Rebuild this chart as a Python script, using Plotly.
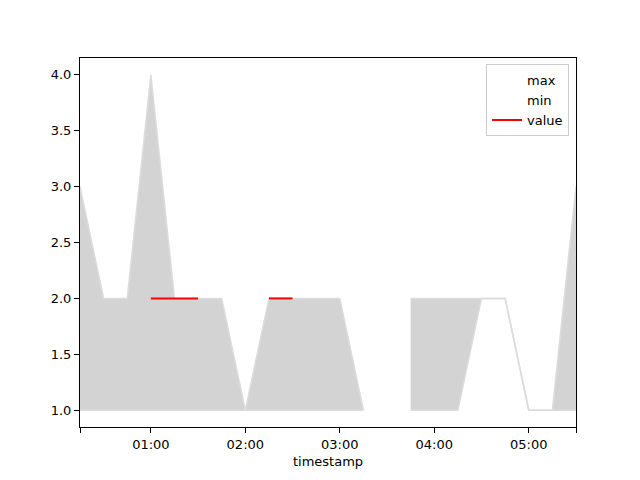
import plotly.graph_objects as go
import pandas as pd

timestamps = pd.date_range("2023-01-01 00:15", "2023-01-01 05:30", freq="15min")
max_vals = [3, 2, 2, 4, 2, 2, 2, 1, 2, 2, 2, 2, 1, None, 2, 2, 2, 2, 2, 1, 1, 3]
min_vals = [1, 1, 1, 1, 1, 1, 1, 1, 1, 1, 1, 1, 1, None, 1, 1, 1, 2, 2, 1, 1, 1]
value_vals = [None, None, None, 2, 2, 2, None, None, 2, 2, None, None, None, None,
              None, None, None, None, None, None, None, None]
hour_ticks = pd.date_range("2023-01-01 01:00", "2023-01-01 05:00", freq="1h")

FILL = "#d3d3d3"
EDGE = "#dcdcdc"

fig = go.Figure()

# split into contiguous segments (gaps where data is missing)
segments, cur = [], []
for i, (a, b) in enumerate(zip(max_vals, min_vals)):
    if a is None or b is None:
        if cur:
            segments.append(cur)
        cur = []
    else:
        cur.append(i)
if cur:
    segments.append(cur)

for seg in segments:
    xs = [timestamps[i] for i in seg]
    fig.add_trace(go.Scatter(x=xs, y=[min_vals[i] for i in seg], mode="lines",
                             line=dict(color=EDGE, width=1.5), showlegend=False,
                             hoverinfo="skip"))
    fig.add_trace(go.Scatter(x=xs, y=[max_vals[i] for i in seg], mode="lines",
                             line=dict(color=EDGE, width=1.5), fill="tonexty",
                             fillcolor=FILL, showlegend=False, hoverinfo="skip"))

fig.add_trace(go.Scatter(x=[None], y=[None], mode="lines", name="max",
                         line=dict(color="rgba(255,255,255,0)", width=1.5)))
fig.add_trace(go.Scatter(x=[None], y=[None], mode="lines", name="min",
                         line=dict(color="rgba(255,255,255,0)", width=1.5)))
fig.add_trace(go.Scatter(x=timestamps, y=value_vals, mode="lines", name="value",
                         line=dict(color="red", width=2), connectgaps=False))

tickvals = [timestamps[0]] + list(hour_ticks) + [timestamps[-1]]
ticktext = [""] + [t.strftime("%H:%M") for t in hour_ticks] + [""]

fig.update_layout(
    width=632, height=472,
    margin=dict(l=72, r=64, t=50, b=53),
    paper_bgcolor="white", plot_bgcolor="white",
    font=dict(family="DejaVu Sans", size=13, color="black"),
    legend=dict(x=0.986, y=0.983, xanchor="right", yanchor="top",
                bgcolor="white", bordercolor="#cccccc", borderwidth=1,
                font=dict(size=13), tracegroupgap=0, traceorder="normal"),
    xaxis=dict(range=[timestamps[0], timestamps[-1]], tickvals=tickvals, ticktext=ticktext,
               showline=True, mirror=True, linecolor="black", linewidth=1,
               ticks="outside", ticklen=5, tickcolor="black", showgrid=False, zeroline=False,
               title=dict(text="timestamp", standoff=6, font=dict(size=13))),
    yaxis=dict(range=[0.85, 4.15], tickvals=[1.0, 1.5, 2.0, 2.5, 3.0, 3.5, 4.0],
               tickformat=".1f",
               showline=True, mirror=True, linecolor="black", linewidth=1,
               ticks="outside", ticklen=5, tickcolor="black", showgrid=False, zeroline=False),
)

fig.write_html("out.html")
